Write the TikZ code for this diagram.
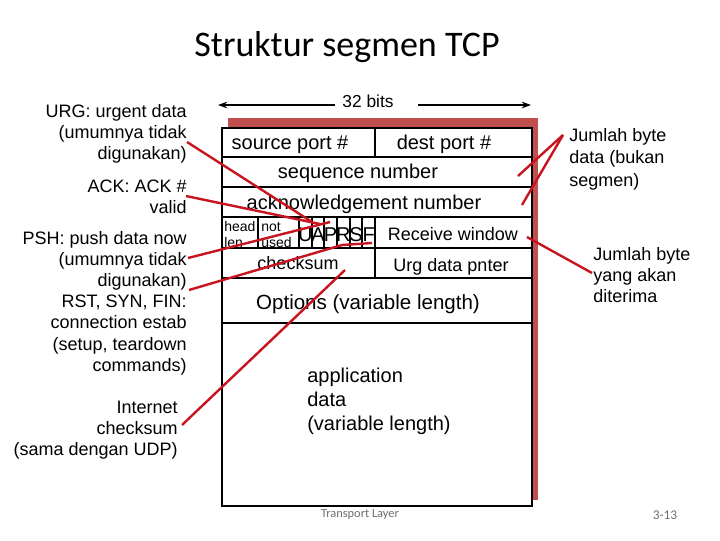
\documentclass[tikz,border=0pt]{standalone}
\usepackage{fontspec}
\setmainfont{Liberation Sans}
\newfontfamily\calib{Carlito}
\usetikzlibrary{arrows.meta}
\definecolor{shadowred}{RGB}{192,80,77}
\definecolor{linered}{RGB}{200,20,30}
\definecolor{graytext}{RGB}{110,110,110}
\begin{document}
\begin{tikzpicture}[x=0.75pt,y=-0.75pt,
  txt/.style={inner sep=0pt, yshift=-2.4pt},
  lbl/.style={txt, font=\fontsize{13.5}{16}\selectfont},
  lblr/.style={lbl, anchor=mid east},
  lbll/.style={lbl, anchor=mid west},
  fld/.style={txt, anchor=mid, font=\fontsize{15}{18}\selectfont},
  fldsmall/.style={txt, anchor=mid, font=\fontsize{13.5}{16}\selectfont},
  tiny/.style={txt, anchor=mid west, font=\fontsize{10.5}{12}\selectfont},
  flag/.style={txt, anchor=mid, font=\fontsize{15}{16}\selectfont},
  rule/.style={line width=2.2pt},
  cellrule/.style={line width=1.5pt},
  pointer/.style={draw=linered, line width=1.8pt},
  dimarrow/.style={line width=1pt, -{Stealth[length=7pt,width=5pt]}},
  foot/.style={inner sep=0pt, text=graytext, font=\calib\fontsize{9.3}{10}\selectfont},
]
\useasboundingbox (0,0) rectangle (720,540);
\fill[white] (0,0) rectangle (720,540);

% title
\node[inner sep=0pt, font=\calib\fontsize{27}{30}\selectfont] (title) at (347,47) {Struktur segmen TCP};

% 32 bits
\node[txt, anchor=mid, font=\fontsize{13}{15}\selectfont] (bits) at (368,101) {32 bits};
\coordinate (bla) at (335,105);
\coordinate (bl) at (218,105);
\coordinate (bra) at (418,105);
\coordinate (br) at (531,105);
\draw[dimarrow] (bla) -- (bl);
\draw[dimarrow] (bra) -- (br);

% segment box
\fill[shadowred] (228,118) rectangle (538,500);
\draw[rule, fill=white] (222,128) rectangle (532,506);
\foreach \yy in {157,187,217,248,278,323}
  \draw[rule] (222,\yy) -- (532,\yy);
\draw[rule] (375,128) -- (375,157);
\draw[rule] (375,217) -- (375,278);
\draw[cellrule] (258,217) -- (258,248);
\draw[cellrule] (299,217) -- (299,248);
\foreach \k in {1,...,5}
  \draw[cellrule] ({299+12.67*\k},217) -- ({299+12.67*\k},248);

% field texts
\node[fld] (src) at (290,143) {source port \#};
\node[fld] (dst) at (444,143) {dest port \#};
\node[fld] (seq) at (358,172) {sequence number};
\node[fld] (ack) at (364,203) {acknowledgement number};
\node[tiny] (head) at (224,225) {head};
\node[tiny] (len) at (224,241) {len};
\node[tiny] (not) at (261,225) {not};
\node[tiny] (used) at (261,241) {used};
\foreach \l [count=\i from 0] in {U,A,P,R,S,F}
  \node[flag] (flag\l) at ({305.3+12.67*\i},235) {\l};
\node[fldsmall] (rwnd) at (453,234) {Receive window};
\node[fldsmall] (csum) at (298,263) {checksum};
\node[fldsmall] (urgp) at (451,265) {Urg data pnter};
\node[txt, anchor=mid, font=\fontsize{15.4}{18}\selectfont] (opts) at (368,303) {Options (variable length)};
\node[txt, anchor=mid west, font=\fontsize{15}{18}\selectfont] (app1) at (307,376) {application};
\node[txt, anchor=mid west, font=\fontsize{15}{18}\selectfont] (app2) at (307,400) {data};
\node[txt, anchor=mid west, font=\fontsize{15}{18}\selectfont] (app3) at (307,424) {(variable length)};

% left labels
\node[lblr] (urg1) at (187,111) {URG: urgent data};
\node[lblr] (urg2) at (187,132) {(umumnya tidak};
\node[lblr] (urg3) at (187,153) {digunakan)};
\node[lblr] (ack1) at (187,186) {ACK: ACK \#};
\node[lblr] (ack2) at (187,207) {valid};
\node[lblr] (psh1) at (187,238) {PSH: push data now};
\node[lblr] (psh2) at (187,259) {(umumnya tidak};
\node[lblr] (psh3) at (187,280) {digunakan)};
\node[lblr] (rst1) at (187,301) {RST, SYN, FIN:};
\node[lblr] (rst2) at (187,322) {connection estab};
\node[lblr] (rst3) at (187,344) {(setup, teardown};
\node[lblr] (rst4) at (187,365) {commands)};
\node[lblr] (cs1) at (178,407) {Internet};
\node[lblr] (cs2) at (178,428) {checksum};
\node[lblr] (cs3) at (178,449) {(sama dengan UDP)};

% right labels
\node[lbll] (jb1) at (569,135) {Jumlah byte};
\node[lbll] (jb2) at (569,157) {data (bukan};
\node[lbll] (jb3) at (569,180) {segmen)};
\node[lbll] (jw1) at (593,254) {Jumlah byte};
\node[lbll] (jw2) at (593,275) {yang akan};
\node[lbll] (jw3) at (593,296) {diterima};

% footer
\node[foot] (tl) at (360,515) {Transport Layer};
\node[foot, font=\calib\fontsize{10}{11}\selectfont] (pg) at (665,515) {3-13};

% pointers
\coordinate (pUrgS) at (187,142);  \coordinate (pUrgE) at (312,222);
\coordinate (pAckS) at (186,196);  \coordinate (pAckE) at (320,224);
\coordinate (pPshS) at (188,258);  \coordinate (pPshE) at (330,222);
\coordinate (pRstS) at (189,290);  \coordinate (pRstM) at (342,245); \coordinate (pRstE) at (372,243);
\coordinate (pCsS) at (182,425);   \coordinate (pCsE) at (345,270);
\coordinate (pJbS) at (563,135);   \coordinate (pJbE1) at (518,176); \coordinate (pJbE2) at (522,205);
\coordinate (pJwS) at (592,273);   \coordinate (pJwE) at (527,237);
\draw[pointer] (pUrgS) -- (pUrgE);
\draw[pointer] (pAckS) -- (pAckE);
\draw[pointer] (pPshS) -- (pPshE);
\draw[pointer] (pRstS) -- (pRstM) -- (pRstE);
\draw[pointer] (pCsS) -- (pCsE);
\draw[pointer] (pJbS) -- (pJbE1);
\draw[pointer] (pJbS) -- (pJbE2);
\draw[pointer] (pJwS) -- (pJwE);
\end{tikzpicture}
\end{document}
